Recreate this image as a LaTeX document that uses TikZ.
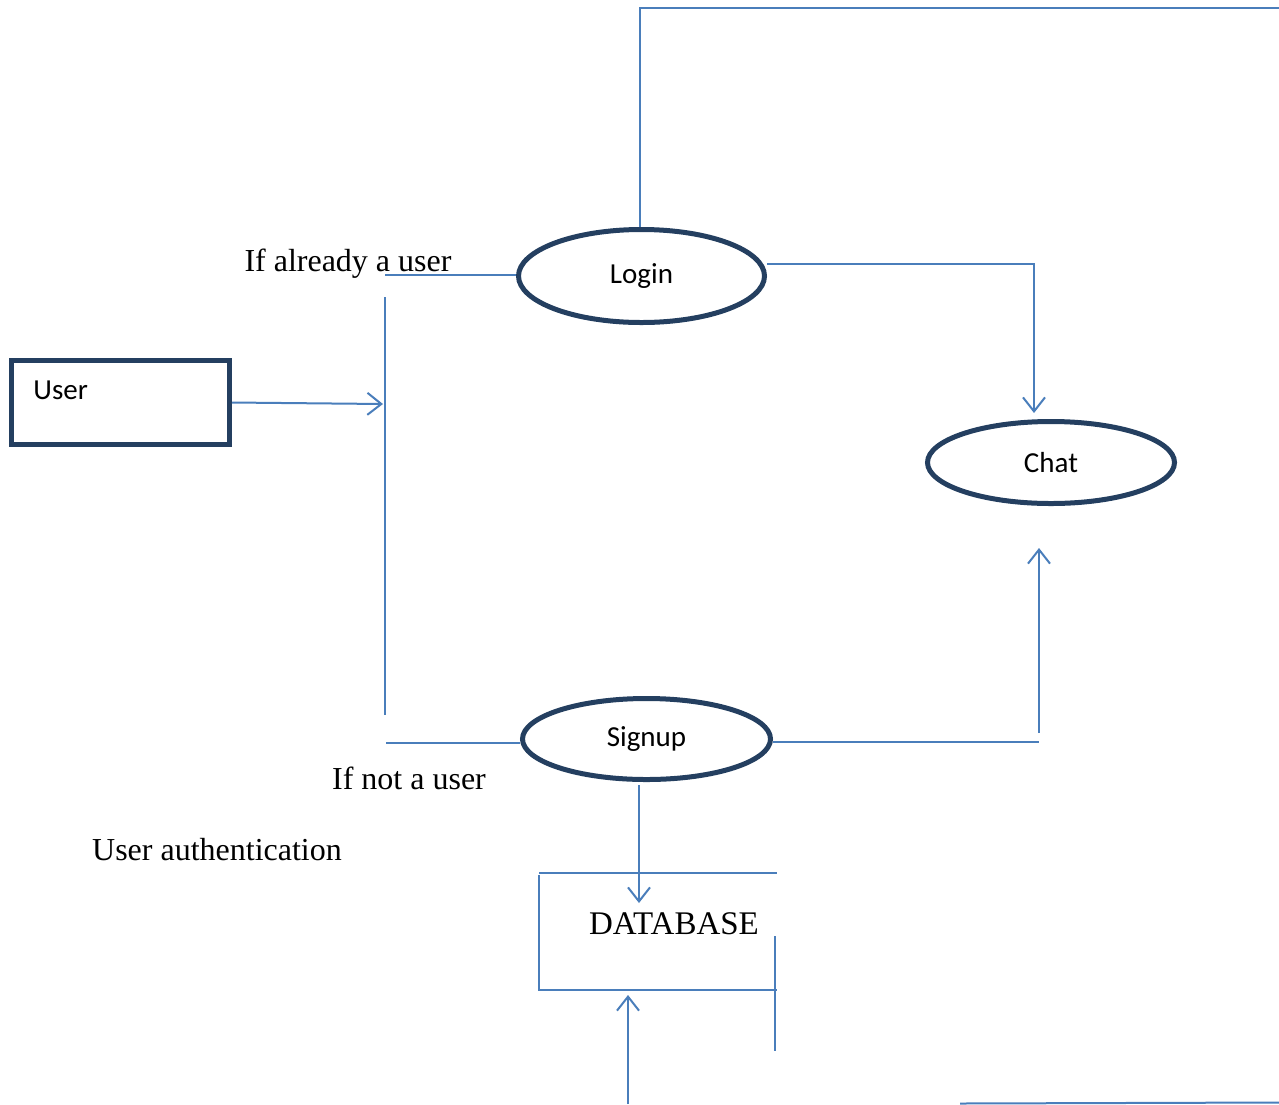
\documentclass[tikz,border=0pt]{standalone}
\usepackage{fontspec}
\setmainfont{Liberation Serif}
\newfontfamily\calibrifont{Carlito}
\usetikzlibrary{arrows.meta,shapes.geometric}
\definecolor{flowblue}{HTML}{4A7EBB}
\definecolor{shapenavy}{HTML}{243F60}
\tikzset{
    flow/.style={flowblue, line width=1pt},
    flowarrow/.style={flow, -{Straight Barb[length=7pt,width=11pt,line width=1pt]}},
    process/.style={ellipse, draw=shapenavy, line width=2.5pt, inner sep=0pt,
        font=\calibrifont\fontsize{14.5}{17}\selectfont},
    entity/.style={rectangle, draw=shapenavy, line width=2.5pt, inner sep=0pt,
        minimum width=109pt, minimum height=42pt},
    note/.style={font=\fontsize{16}{19}\selectfont, inner sep=0pt}
}
\begin{document}
\begin{tikzpicture}[x=0.5pt, y=-0.5pt]
    \useasboundingbox (0,0) rectangle (1279,1104);

    % entity and processes
    \node[entity] (user) at (120.5,402.5) {};
    \node[anchor=west, inner sep=0pt, font=\calibrifont\fontsize{14.5}{17}\selectfont] (userlabel) at (33,390) {User};
    \node[process, minimum width=123pt, minimum height=46.5pt] (login) at (641.5,276) {Login};
    \node[process, minimum width=123.5pt, minimum height=41pt] (chat) at (1051,462.5) {Chat};
    \node[process, minimum width=124pt, minimum height=40.5pt] (signup) at (646.5,739) {Signup};

    % labels
    \node[note] (alreadyuser) at (348,264) {If already a user};
    \node[note] (notuser) at (409,778) {If not a user};
    \node[note] (authlabel) at (217,850) {User authentication};
    \node[note, font=\fontsize{16.5}{19}\selectfont] (database) at (674,924) {DATABASE};

    % free ends
    \coordinate (bus) at (383,404);
    \coordinate (bustop) at (385,297);
    \coordinate (busbot) at (385,715);
    \coordinate (loginfrom) at (385,275);
    \coordinate (signupfrom) at (386,743);
    \coordinate (topend) at (1279,8);
    \coordinate (chatup) at (1039,548);
    \coordinate (chatupstart) at (1039,733);
    \coordinate (signupcorner) at (1039,742);
    \coordinate (dbin) at (639,903);
    \coordinate (dbfrom) at (639,785);
    \coordinate (dbout) at (628,995);
    \coordinate (dbbottom) at (628,1104);

    % data store
    \draw[flow] (539,873) -- (777,873);
    \draw[flow] (539,875) -- (539,990) -- (777,990);
    \draw[flow] (775,936) -- (775,1051);

    % connectors
    \draw[flowarrow] (user.east) -- (bus);
    \draw[flow] (bustop) -- (busbot);
    \draw[flow] (loginfrom) -- (login.west |- loginfrom);
    \draw[flow] (signupfrom) -- (signup.west |- signupfrom);
    \draw[flow] ([xshift=-1pt]login.north) |- (topend);
    \draw[flowarrow] ([yshift=6pt]login.east) -| ([xshift=-8.5pt,yshift=3pt]chat.north);
    \draw[flow] ([yshift=-1.5pt]signup.east) -- (signupcorner);
    \draw[flowarrow] (chatupstart) -- (chatup);
    \draw[flowarrow] (dbfrom) -- (dbin);
    \draw[flowarrow] (dbbottom) -- (dbout);
    \draw[flow] (960,1103.5) -- (1279,1102.5);
\end{tikzpicture}
\end{document}
